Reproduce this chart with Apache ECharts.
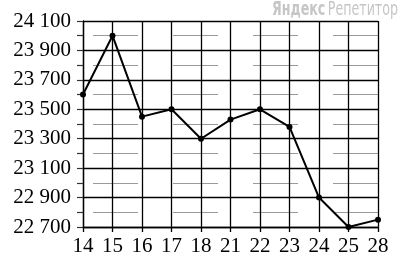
<!DOCTYPE html>
<html>
<head>
<meta charset="utf-8">
<script src="https://cdn.jsdelivr.net/npm/echarts@6/dist/echarts.min.js"></script>
<style>
html,body{margin:0;padding:0;background:#fff;}
#c{width:400px;height:266px;}
</style>
</head>
<body>
<div id="c"></div>
<script>
const categories = ['14','15','16','17','18','21','22','23','24','25','28'];
const values = [23600, 24000, 23450, 23500, 23300, 23430, 23500, 23380, 22900, 22700, 22750];
const yMin = 22700, yMax = 24100, yStep = 100;
const watermark = ['Яндекс', 'Репетитор'];

const chart = echarts.init(document.getElementById('c'), null, {renderer: 'canvas'});
const serif = "Liberation Serif";
const wmFont = "DejaVu Sans Condensed, Liberation Sans Narrow, sans-serif";
chart.setOption({
  animation: false,
  backgroundColor: '#fff',
  grid: {left: 83, right: 22, top: 21, bottom: 39, containLabel: false},
  xAxis: {
    type: 'category',
    data: categories,
    boundaryGap: false,
    axisLine: {show: true, lineStyle: {color: '#000', width: 1.3}},
    axisTick: {show: true, length: 5, alignWithLabel: true, lineStyle: {color: '#000', width: 1.3}},
    axisLabel: {color: '#000', fontFamily: serif, fontSize: 21, margin: 9},
    splitLine: {show: true, lineStyle: {color: '#000', width: 1.3}}
  },
  yAxis: [{
    type: 'value',
    position: 'left',
    min: yMin, max: yMax, interval: yStep,
    axisLine: {show: true, lineStyle: {color: '#000', width: 1.3}},
    axisTick: {show: true, length: 6, lineStyle: {color: '#333', width: 1.2}},
    axisLabel: {
      color: '#000', fontFamily: serif, fontSize: 21, margin: 12,
      formatter: function (v) {
        if ((v - yMin) % 200 !== 0) return '';
        const s = String(v);
        return s.slice(0, s.length - 3) + ' ' + s.slice(-3);
      }
    },
    splitLine: {show: true, lineStyle: {color: ['#000', 'rgba(0,0,0,0)'], width: 1.3}}
  }, {
    type: 'value',
    position: 'left',
    min: yMin, max: yMax, interval: yStep,
    axisLine: {show: false},
    axisTick: {show: false},
    axisLabel: {show: false},
    splitLine: {show: true, lineStyle: {color: ['rgba(0,0,0,0)', '#9a9a9a'], width: 1, type: [45, 35], dashOffset: 70}}
  }],
  graphic: [{
    type: 'text',
    x: 398,
    y: 1,
    scaleX: 0.74,
    style: {
      text: '{b|' + watermark[0] + '} {n|' + watermark[1] + '}',
      align: 'right',
      verticalAlign: 'top',
      rich: {
        b: {fontFamily: wmFont, fontWeight: 'bold', fontSize: 19, fill: '#c6c6c6'},
        n: {fontFamily: wmFont, fontSize: 19, fill: '#c6c6c6'}
      }
    },
    z: 100
  }],
  series: [{
    type: 'line',
    data: values,
    yAxisIndex: 0,
    symbol: 'circle',
    symbolSize: 6,
    lineStyle: {color: '#000', width: 2},
    itemStyle: {color: '#000'},
    z: 10
  }]
});
</script>
</body>
</html>
